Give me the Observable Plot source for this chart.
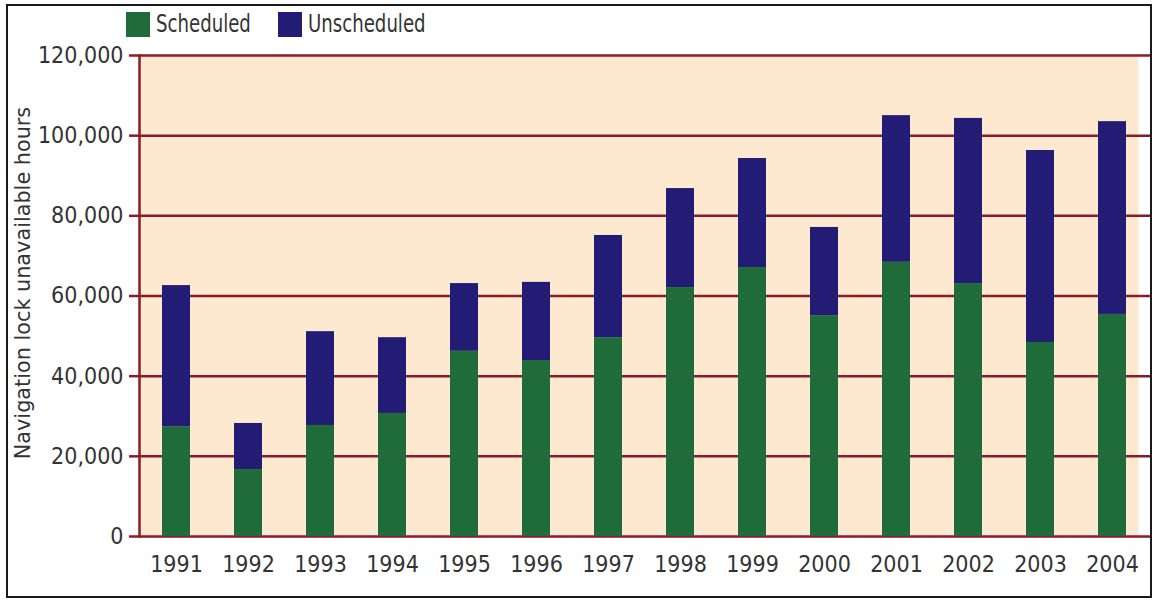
<!DOCTYPE html>
<html>
<head>
<meta charset="utf-8">
<script src="https://cdn.jsdelivr.net/npm/d3@7"></script>
<script src="https://cdn.jsdelivr.net/npm/@observablehq/plot@0.6"></script>
<style>
  html, body { margin: 0; padding: 0; background: #fff; }
  body { width: 1156px; height: 602px; position: relative; overflow: hidden;
         font-family: "Liberation Sans Narrow", "DejaVu Sans Condensed", "Roboto", sans-serif; }
  #border { position: absolute; left: 6px; top: 4px; width: 1146px; height: 594px;
            border: 2px solid #1a1a1a; box-sizing: border-box; pointer-events: none; z-index: 5; }
  #legend { position: absolute; left: 0; top: 0; width: 1156px; height: 44px; z-index: 3; }
  .item { position: absolute; top: 10px; display: flex; align-items: center; font-size: 24px; color: #333; }
  .sw { width: 24px; height: 25px; margin-right: 6px; display: inline-block; }
  .lt { display: inline-block; transform: scaleX(0.84); transform-origin: left center; }
  #chart { position: absolute; left: 0; top: 0; }
  #chart svg { display: block; }
  #ytitle { position: absolute; left: 22px; top: 283px; transform: translate(-50%, -50%) rotate(-90deg) scaleX(1.05);
            font-size: 22px; color: #333; white-space: nowrap; }
</style>
</head>
<body>
<div id="border"></div>
<div id="chart"></div>
<div id="legend"></div>
<div id="ytitle"></div>
<script>
const years = ["1991","1992","1993","1994","1995","1996","1997","1998","1999","2000","2001","2002","2003","2004"];
const scheduled   = [27400, 16700, 27700, 30700, 46200, 43900, 49600, 62100, 67100, 55100, 68400, 63100, 48400, 55400];
const unscheduled = [35200, 11500, 23400, 18900, 16900, 19500, 25500, 24700, 27200, 22000, 36600, 41200, 47900, 48100];
const seriesNames = ["Scheduled", "Unscheduled"];
const seriesColors = ["#1f6b3a", "#231c74"];
const yTicks = [0, 20000, 40000, 60000, 80000, 100000, 120000];
const yTitle = "Navigation lock unavailable hours";

const data = [];
years.forEach((yr, i) => {
  data.push({year: yr, type: seriesNames[0], value: scheduled[i]});
  data.push({year: yr, type: seriesNames[1], value: unscheduled[i]});
});

const legend = document.getElementById("legend");
const legendX = [126, 278];
seriesNames.forEach((n, i) => {
  const d = document.createElement("div");
  d.className = "item";
  d.style.left = legendX[i] + "px";
  d.innerHTML = `<span class="sw" style="background:${seriesColors[i]}"></span><span class="lt">${n}</span>`;
  legend.appendChild(d);
});
document.getElementById("ytitle").textContent = yTitle;

const grid = "#8b1a2a";
const chart = Plot.plot({
  width: 1156,
  height: 596,
  marginTop: 55,
  marginBottom: 60,
  marginLeft: 139,
  marginRight: 6,
  style: {fontFamily: '"Liberation Sans Narrow", "DejaVu Sans Condensed", sans-serif', fontSize: "22px", color: "#333", background: "transparent"},
  x: {domain: years, paddingInner: 0.61, paddingOuter: 0.325, label: null},
  y: {domain: [0, 120000], label: null},
  color: {domain: seriesNames, range: seriesColors},
  marks: [
    Plot.frame({fill: "#fde8d0", stroke: null, insetRight: 12}),
    Plot.ruleY(yTicks, {stroke: grid, strokeWidth: 2.5}),
    Plot.barY(data, {x: "year", y: "value", fill: "type"}),
    Plot.frame({anchor: "left", stroke: grid, strokeWidth: 2.5}),
    Plot.axisY({ticks: yTicks, tickFormat: d3.format(","), tickSize: 10, tickPadding: 6, stroke: grid, strokeWidth: 2.5, fill: "#333", fontSize: 23, label: null}),
    Plot.axisX({tickSize: 0, tickPadding: 19, fill: "#333", fontSize: 23, label: null})
  ]
});
document.getElementById("chart").appendChild(chart);
</script>
</body>
</html>
